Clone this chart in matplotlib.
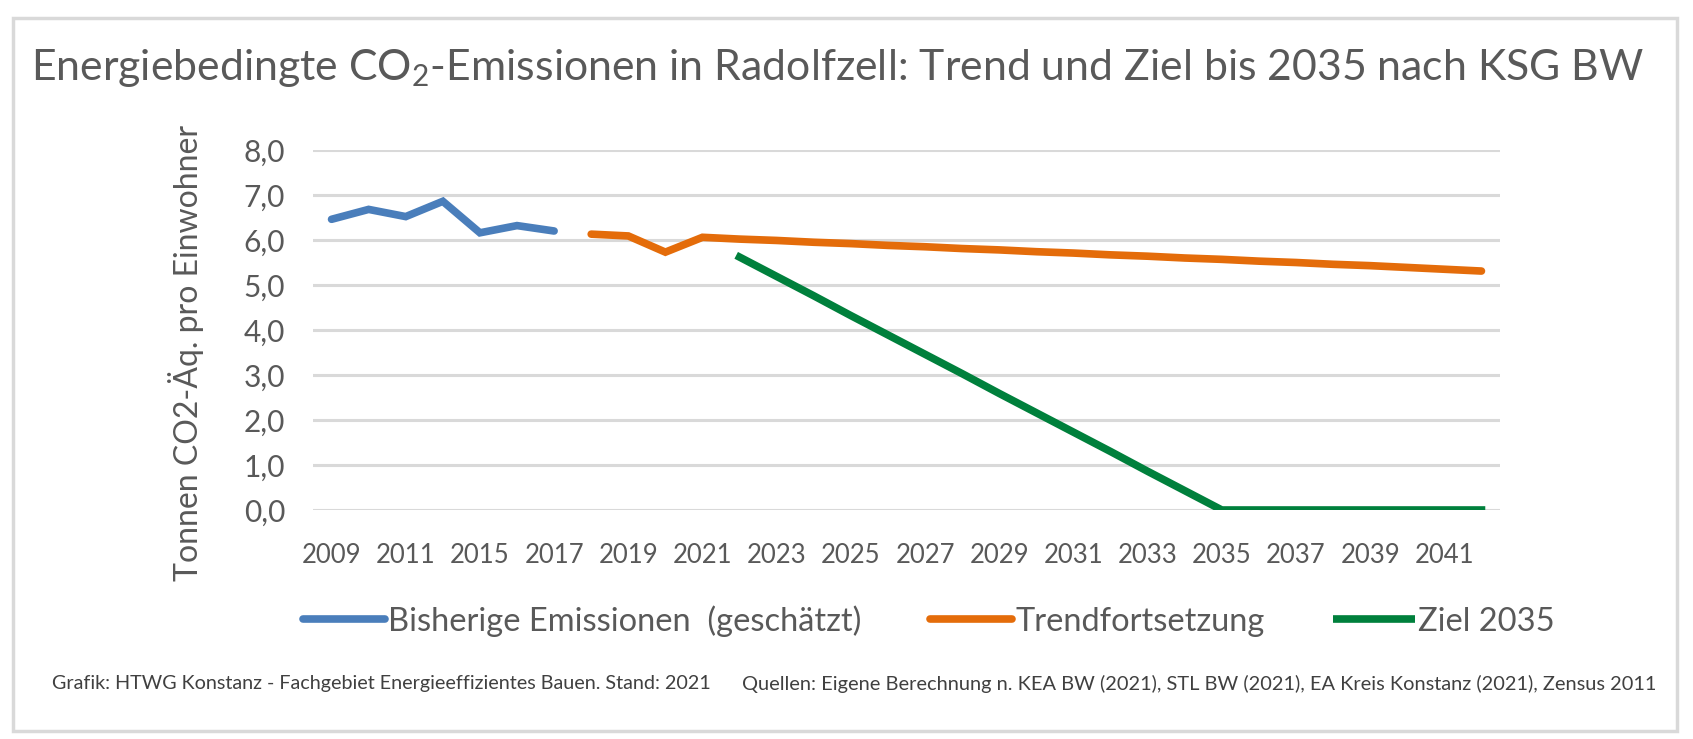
import matplotlib.pyplot as plt
from matplotlib.lines import Line2D
from matplotlib.patches import Rectangle

plt.rcParams['font.family'] = ['Lato', 'DejaVu Sans']
plt.rcParams['mathtext.default'] = 'regular'

# categories (index 3 label is hidden in the chart)
years = ['2009', '2010', '2011', '2013', '2015', '2016', '2017'] + [str(y) for y in range(2018, 2043)]

bisher = [6.46, 6.68, 6.52, 6.86, 6.16, 6.32, 6.20]
trend = [6.13, 6.09, 5.73, 6.06, 6.02, 5.99, 5.95, 5.92, 5.88, 5.85, 5.81, 5.78,
         5.74, 5.71, 5.67, 5.64, 5.60, 5.57, 5.53, 5.50, 5.46, 5.43, 5.39, 5.35, 5.31]
ziel = [5.62, 5.19, 4.76, 4.32, 3.89, 3.46, 3.03, 2.59, 2.16, 1.73, 1.30, 0.86,
        0.43, 0.0, 0.0, 0.0, 0.0, 0.0, 0.0, 0.0, 0.0]

x_bisher = list(range(0, len(bisher)))
x_trend = list(range(7, 7 + len(trend)))
x_ziel = list(range(11, 11 + len(ziel)))

blue = '#4a7ebb'
orange = '#e46c0a'
green = '#00803c'
grey = '#595959'

fig = plt.figure(figsize=(16.93, 7.39), dpi=100)
fig.patches.append(Rectangle((13 / 1693, 1 - 731 / 739), 1664 / 1693, 713 / 739,
                             transform=fig.transFigure, fill=False,
                             edgecolor='#d9d9d9', linewidth=2.5))

ax = fig.add_axes([313 / 1693, 1 - 510 / 739, 1187 / 1693, 360 / 739])
ax.plot(x_bisher, bisher, color=blue, lw=5.5, solid_capstyle='round', solid_joinstyle='miter')
ax.plot(x_trend, trend, color=orange, lw=5.5, solid_capstyle='round', solid_joinstyle='miter')
ax.plot(x_ziel, ziel, color=green, lw=5.5, solid_capstyle='projecting', solid_joinstyle='miter')

ax.set_xlim(-0.5, len(years) - 0.5)
ax.set_ylim(0, 8)
ax.set_yticks(range(0, 9))
ax.set_yticklabels(['{:.1f}'.format(v).replace('.', ',') for v in range(0, 9)])
ax.set_xticks(range(0, len(years), 2))
ax.set_xticklabels(years[::2])
ax.grid(axis='y', color='#d9d9d9', lw=2.2)
ax.set_axisbelow(True)
for s in ax.spines.values():
    s.set_visible(False)
ax.tick_params(axis='y', length=0, pad=20, labelsize=21.5, labelcolor=grey)
ax.tick_params(axis='x', length=0, pad=24, labelsize=18.5, labelcolor=grey)

fig.text(186 / 1693, 1 - 353 / 739, 'Tonnen CO2-Äq. pro Einwohner', rotation=90,
         ha='center', va='center', fontsize=23, color=grey)

fig.text(838 / 1693, 1 - 68 / 739,
         'Energiebedingte CO$_2$-Emissionen in Radolfzell: Trend und Ziel bis 2035 nach KSG BW',
         ha='center', va='center', fontsize=30.8, color=grey)

handles = [Line2D([], [], color=blue, lw=5.5, solid_capstyle='round'),
           Line2D([], [], color=orange, lw=5.5, solid_capstyle='round'),
           Line2D([], [], color=green, lw=5.5, solid_capstyle='butt')]
labels = ['Bisherige Emissionen  (geschätzt)', 'Trendfortsetzung', 'Ziel 2035']
leg = fig.legend(handles, labels, loc='center', bbox_to_anchor=(929 / 1693, 1 - 621 / 739),
                 ncol=3, frameon=False, fontsize=23.5, handlelength=2.5, handletextpad=0.1,
                 columnspacing=2.1)
for t in leg.get_texts():
    t.set_color(grey)

fig.text(52 / 1693, 1 - 684 / 739,
         'Grafik: HTWG Konstanz - Fachgebiet Energieeffizientes Bauen. Stand: 2021',
         ha='left', va='center', fontsize=14.2, color='#404040')
fig.text(1656 / 1693, 1 - 684 / 739,
         'Quellen: Eigene Berechnung n. KEA BW (2021), STL BW (2021), EA Kreis Konstanz (2021), Zensus 2011',
         ha='right', va='center', fontsize=14.4, color='#404040')

fig.savefig('out.png', dpi=100)
